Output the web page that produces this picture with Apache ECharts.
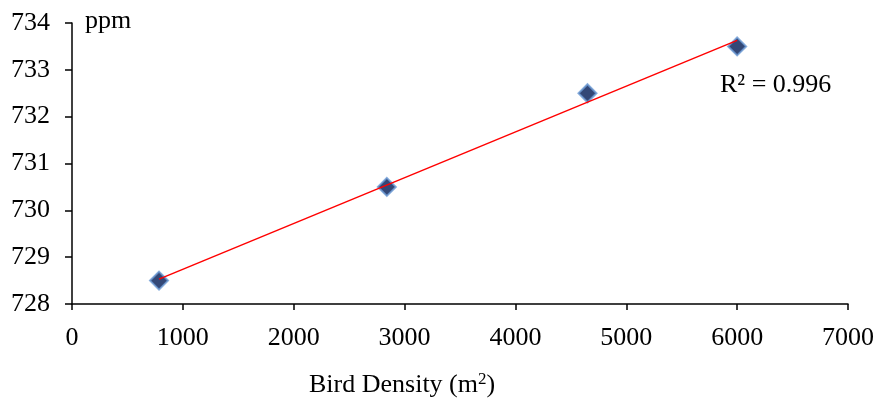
<!DOCTYPE html>
<html>
<head>
<meta charset="utf-8">
<script src="https://cdn.jsdelivr.net/npm/echarts@6/dist/echarts.min.js"></script>
<style>
  html, body { margin: 0; padding: 0; background: #fff; }
  #main { width: 878px; height: 403px; }
</style>
</head>
<body>
<div id="main"></div>
<script>
// bird density vs CO2
const density = [785, 2840, 4650, 6000];
const ppm = [728.5, 730.5, 732.5, 733.5];
// linear trendline end points, as drawn
const trendX = [785, 6000];
const trendY = [728.53, 733.63];
const r2Text = 'R\u00b2 = 0.996';

const chartDom = document.getElementById('main');
const myChart = echarts.init(chartDom);

const font = 'Liberation Serif';

const option = {
  animation: false,
  grid: { left: 72, right: 30, top: 23, bottom: 99, outerBoundsMode: 'none', containLabel: false },
  xAxis: {
    type: 'value',
    min: 0,
    max: 7000,
    interval: 1000,
    splitLine: { show: false },
    axisLine: { lineStyle: { color: '#000', width: 1.5 } },
    axisTick: { inside: false, length: 6, lineStyle: { color: '#000', width: 1.5 } },
    axisLabel: { color: '#000', fontFamily: font, fontSize: 26, margin: 21, formatter: v => String(v) }
  },
  yAxis: {
    type: 'value',
    min: 728,
    max: 734,
    interval: 1,
    splitLine: { show: false },
    axisLine: { show: true, lineStyle: { color: '#000', width: 1.5 } },
    axisTick: { show: true, length: 7, lineStyle: { color: '#000', width: 1.5 } },
    axisLabel: { color: '#000', fontFamily: font, fontSize: 26, margin: 22 }
  },
  graphic: [
    {
      type: 'text',
      left: 85,
      top: 8,
      style: { text: 'ppm', fontFamily: font, fontSize: 26, fill: '#000' }
    },
    {
      type: 'text',
      left: 720,
      top: 72,
      style: { text: r2Text, fontFamily: font, fontSize: 26, fill: '#000' }
    },
    {
      // x axis title sits left of the plot centre in the original
      type: 'text',
      left: 309,
      top: 371,
      style: {
        text: '{t|Bird Density (m}{s|2}{t|)}',
        rich: {
          t: { fontFamily: font, fontSize: 26, fill: '#000' },
          s: { fontFamily: font, fontSize: 17, fill: '#000', verticalAlign: 'top', padding: [0, 0, 12, 0] }
        }
      }
    }
  ],
  series: [
    {
      type: 'line',
      data: trendX.map((x, i) => [x, trendY[i]]),
      symbol: 'none',
      lineStyle: { color: '#ff0000', width: 1.5 },
      z: 2
    },
    {
      type: 'scatter',
      data: density.map((x, i) => [x, ppm[i]]),
      symbol: 'diamond',
      symbolSize: 18,
      itemStyle: { color: '#001a55', borderColor: '#6a9ad4', borderWidth: 2 },
      z: 1
    }
  ]
};

myChart.setOption(option);
</script>
</body>
</html>
